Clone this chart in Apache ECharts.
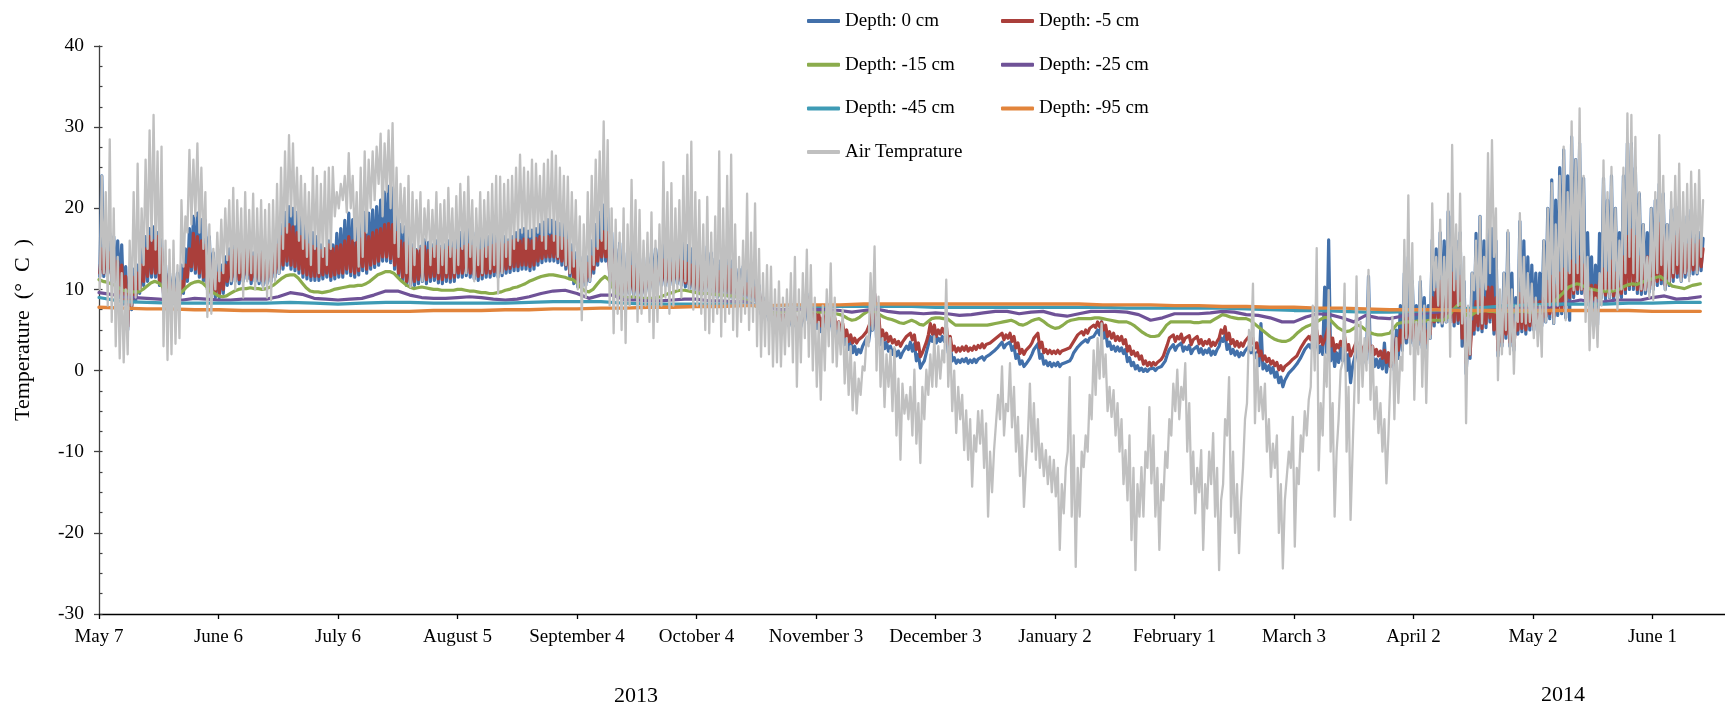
<!DOCTYPE html>
<html>
<head>
<meta charset="utf-8">
<script src="https://cdn.jsdelivr.net/npm/echarts@6/dist/echarts.min.js"></script>
<style>
  html, body { margin: 0; padding: 0; background: #ffffff; }
  #chart { width: 1725px; height: 710px; }
</style>
</head>
<body>
<div id="chart"></div>
<script>
// Soil and air temperature record, May 2013 – June 2014.
// x = days since May 7, 2013. Daily arrays start at day 0.

const tickLabels = ['May 7', 'June 6', 'July 6', 'August 5', 'September 4', 'October 4',
  'November 3', 'December 3', 'January 2', 'February 1', 'March 3', 'April 2', 'May 2', 'June 1'];

const yearLabels = ['2013', '2014'];

const seriesNames = ['Depth: 0 cm', 'Depth: -5 cm', 'Depth: -15 cm', 'Depth: -25 cm',
  'Depth: -45 cm', 'Depth: -95 cm', 'Air Temprature'];

// Air temperature: daily maximum / minimum (°C)
const airHi = [
  24, 22, 28.5, 20, 14, 12, 10, 16, 22, 25.5,
  20, 26, 29.6, 31.5, 27, 27.6, 16, 14.9, 16, 13,
  21, 19, 27.2, 26, 28, 25, 22, 18, 15, 17,
  18.6, 20, 21, 22.5, 21, 20, 22, 19.8, 21.8, 20,
  21, 19.8, 20.5, 21, 23, 25, 27, 29, 28, 25,
  24, 23, 22, 25, 24, 23, 24.5, 25, 25.1, 22,
  23, 24, 26.8, 24, 22, 25, 27, 26, 27, 27.6,
  29.2, 28, 29.6, 30.5, 25, 23, 22.5, 24, 22, 21,
  22, 20, 21, 19.8, 22, 20.5, 21, 22.5, 20, 21.5,
  23, 22, 23.9, 21, 20, 22, 21, 22, 23, 24,
  23.9, 23, 23.5, 24, 25, 26.6, 25, 24.5, 26, 25.5,
  24, 25.5, 26, 27, 26.5, 25, 24, 23.9, 22, 21,
  19, 18, 22, 24, 26, 27, 30.7, 28.4, 20, 18.6,
  17, 20, 18, 23.5, 21, 19.8, 16, 17, 19.5, 16,
  18, 25.7, 22, 23.1, 20, 21, 24, 26.6, 28.2, 22,
  21, 18, 21.4, 17, 19, 27, 20, 24, 26.6, 18,
  14, 16, 21.8, 17, 20.6, 15, 12, 13, 12.8, 10,
  11, 9, 10, 12, 14, 10, 12, 14.9, 13, 9,
  6, 8, 10, 13.2, 9, 6, 7.5, 4, 3, 1,
  -1, 0.5, 4.2, 12, 15.3, 9.1, 4, 2, 2.5, 2.9,
  -1, -1.6, -3, -2, 0.1, -4, -2, 0.1, 2, 4.2,
  3, 2.5, 11.2, 4, 0, -2, -3, -4.9, -6, -8,
  -5, -4.9, -6.5, -10, -9.8, -3, 0.5, -4.1, 0.9, -2,
  -5.7, -8, -12, -1.6, -4, -6, -9, -9.8, -10.6, -11,
  -12, -14, -12, -0.8, -8, -12, -10, -8, -3, 2.5,
  4, 5.8, 2, -2, -2.4, -4, -6, -9.8, -8, -12,
  -14, -11.9, -10, -4.5, -8, -12, -14, -10, -6, -1.6,
  0.1, -2, 0.9, -4, -10, -12, -9.8, -14, -10, -7.7,
  -12, -16, -6, -0.8, -10, -14, -16, -6, 5, 10.7,
  2, -2, -1.6, -6, -9, -8, -14, -16, -10, -5.7,
  -12, -8, -5, -3.6, 8, 15.1, -4, 2, 9.9, -4,
  -10, 0, 10.7, -2, -10, 11.6, 6, 4, 12.4, 3,
  -2, -4, -6, -8, 6.6, 4, 1.7, 16.1, 21.6, 15.7,
  6, 11.6, 8, 6, 20.6, 14, 18.6, 14, 21.8, 27.8,
  18, 21.8, 14, 8, 12, 16, 19, 14, 26.8, 28.4,
  20, 10, 12, 17.3, 10, 8, 19.4, 14, 12, 10.7,
  9, 8, 16, 20, 23.1, 18, 24, 27.6, 22, 30.7,
  26, 32.3, 24, 14, 10, 9, 12, 25.9, 22, 25.1,
  20, 16, 25, 31.7, 31.5, 28.8, 22, 18, 14, 20,
  22, 29, 24, 18, 22, 24, 25.5, 22, 23, 24.5,
  23, 24.7, 21
];
const airLo = [
  10, 12, 8, 6, 3, 1.5, 1, 2, 8, 9,
  10, 13, 15, 16, 14.9, 12, 3, 1.3, 2, 3.3,
  4, 12.8, 17, 18, 19, 17, 15, 6.6, 7, 10,
  11, 12, 13.6, 11, 10, 12, 9, 11, 12, 10,
  11, 10, 9, 8.7, 11, 12, 15, 17, 19, 18,
  16, 15, 14, 13, 15, 12, 14, 13, 15, 19,
  20, 21, 19.5, 20, 16, 12.8, 14, 17, 20, 21,
  23, 19, 22, 20, 15.7, 14, 17, 12, 10.3, 13,
  15, 11, 16, 13, 14, 12, 13, 12, 14, 12,
  13, 15, 12, 14, 11, 13, 12, 14, 12.5, 13,
  9.5, 12, 14, 13, 15, 16, 17, 15, 16.5, 15,
  17, 16, 15, 17, 16, 14, 15, 13, 12, 12.8,
  10, 6.2, 9, 11, 13, 15, 16, 15, 8, 4.6,
  7, 5, 3.4, 8, 9, 6, 7, 8, 6, 4,
  6, 8, 9, 7, 8, 10, 9, 11, 10, 7.5,
  8, 7, 5, 4.6, 6, 7, 4.2, 6, 7, 5,
  4.2, 6, 7, 5, 6, 3, 1.7, 3, 2, 0.5,
  1, 0.5, 2, 3, 1, -2, 1, 4, 1.7, 0,
  -2, -3.6, 0, 3, 1, 0.5, 2, -1.6, -3, -4.9,
  -5.3, -3, 0, 3, 5, 0, -2, -4.5, -2, -5,
  -8, -11, -5.3, -6, -8, -9, -11.4, -6, -3, -2,
  -2, -1, 1, -2, -5, -7.7, -6, -9.8, -11, -14.3,
  -10, -9, -12, -18, -15, -10, -6, -8, -5, -7,
  -10, -13, -16.8, -8, -10, -11, -12, -13, -14, -15,
  -15.5, -22.1, -17.6, -10, -18, -24.2, -18, -11.9, -10, -6,
  -3, -1, -0.8, -5, -5.7, -8, -10, -14, -16, -20.9,
  -24.6, -18, -18, -12, -13.9, -18, -22.1, -16, -12, -8,
  -5, -6, -3.6, -10, -14, -17.6, -15, -22.1, -17, -14,
  -18, -24.6, -14, -8, -18, -20, -22.5, -12, -4, 2.5,
  -6.5, -5, -6, -10, -13.1, -12, -20, -24.4, -16, -12,
  -21.7, -14, -10, -8, -2, 0, -12.3, -8, -2, -10,
  -18, -6, 1, -10, -18.4, -2, -4, -2, 0, -3.6,
  -6, -7.7, -10, -13.9, -8.1, -6, -4, 0, 4, 2,
  -3.6, 2, -2, -4, 4, 9.9, 8, 5.8, 6, 1.7,
  9.9, 8, 5.8, -6.5, 2, 9.9, 7, 5.8, 10, 12,
  14, -1.2, 2, 5, 2, -0.4, 6, 6, 5.8, 6,
  4, 3, 1.7, 6, 8, 5.8, 8, 10, 6.2, 12,
  9.9, 12, 10, 6, 2.5, 4, 2.9, 8, 10, 9,
  10, 7.5, 10, 12, 14, 12, 11, 10, 9.9, 9,
  8.7, 12, 13, 9.9, 11, 12, 13, 11, 12, 11,
  13, 12, 14
];

// Depth 0 cm: daily maximum / minimum (°C)
const d0Hi = [
  24, 17, 16.9, 16.5, 16, 15.5, 12.8, 12, 12.5, 13,
  15, 16.5, 17.5, 17.7, 17, 16.1, 13, 12, 11.6, 12,
  13, 15, 17.5, 19, 19.4, 18.6, 18.5, 16.5, 14.5, 13.5,
  13, 14, 15, 15.5, 15.7, 15.3, 15.7, 15.5, 14.5, 15,
  15, 14.5, 15, 15.5, 16.5, 18, 19.5, 20.2, 20, 19.5,
  19, 18.6, 17.3, 17, 16.5, 15.5, 15, 16, 15.5, 16.9,
  17.5, 18.5, 19.4, 18.6, 18, 18.5, 19.5, 19.4, 19.8, 20.2,
  21, 22, 22.7, 22.5, 20, 18, 17.7, 16.5, 15.5, 14.9,
  15.3, 16.1, 15.8, 15.5, 16, 15.3, 15.5, 16, 16.1, 16.5,
  17, 17.5, 18.1, 17.5, 17, 16.5, 16.1, 16.5, 16.8, 17,
  17, 16.5, 16.1, 16.5, 17, 17.3, 17.5, 17.2, 17.3, 17.5,
  18, 18.3, 18.6, 18.5, 18.3, 18.1, 18, 17.7, 15.5, 14.5,
  14, 13.5, 14, 16, 18, 19.5, 20.4, 20, 17, 15,
  15.7, 14.5, 13.5, 15, 14.5, 13.8, 13, 14, 14.5, 15,
  15, 15.5, 15.7, 15.3, 15, 15.5, 15.7, 15.4, 15, 14.5,
  14.5, 14, 15.3, 14.5, 13.8, 13.5, 14, 14.6, 13.5, 12.8,
  12.5, 12.8, 12.5, 12, 11.5, 10.5, 9, 8.2, 7.6, 7.2,
  7, 6.8, 7, 6.6, 6.5, 6, 6.5, 9.5, 8, 7,
  6.5, 5.8, 7.5, 7, 6, 5.5, 5, 4.2, 3.5, 3,
  2.6, 3, 4, 5.5, 9.5, 6.5, 4, 3.5, 3, 2.6,
  2.4, 2.2, 3, 3.5, 3.3, 2, 0.8, 2.2, 4.2, 4.5,
  4, 4.2, 4.6, 3, 1.6, 1.3, 1.4, 1.5, 1.3, 1.4,
  1.4, 1.7, 1.7, 2, 2.4, 2.9, 3.5, 3.2, 3.5, 3,
  2, 1.2, 0.8, 1.5, 2.6, 3.3, 2, 1.2, 1, 0.9,
  1, 0.8, 1, 1.2, 2.2, 2.9, 3.4, 3.8, 4, 4.2,
  5, 6, 5, 3.5, 3, 2.9, 2.8, 2.6, 1.6, 1,
  0.6, 0.3, 0.2, 0.2, 0.3, 0.3, 0.5, 1.2, 2.6, 3.2,
  3, 3.4, 2.9, 3.1, 2.6, 3, 2.7, 2.5, 2.7, 2.4,
  2.6, 4, 4.4, 3.2, 2.6, 2.4, 2.2, 2.4, 3, 2.8,
  2.2, 5.8, 0.8, 0.6, 0.4, -0.2, -0.8, -1.2, -0.3, 0.2,
  0.8, 1.6, 2.6, 3.2, 3.6, 4, 3, 10.3, 16.1, 3,
  2.2, 2.8, 3, 2, 0.5, 2.6, 2.2, 2, 11.6, 2,
  1.4, 1.4, 3.4, 1.6, 2, 5, 8, 12, 14, 11,
  8, 11, 9, 8, 16.1, 15, 17, 16, 19.6, 19,
  16, 17, 11, 4, 12, 16.9, 19, 16, 18, 17.5,
  16, 8, 12, 17, 12, 9, 18.4, 16, 14, 13,
  12, 12, 16, 20, 23.5, 21, 25, 27.2, 24, 28.8,
  26, 28, 23.7, 17, 14, 13, 16.9, 23.7, 21, 24,
  20, 17, 24, 28, 28, 25, 21.8, 18, 17, 20,
  21, 23, 21.8, 18, 19.8, 20, 20.2, 18, 19, 19.8,
  18, 17, 16.3
];
const d0Lo = [
  11.6, 11.6, 12, 11, 10.5, 9, 8.2, 5, 7.5, 8.5,
  9.5, 10.5, 11, 11.5, 11.5, 10.5, 9, 8.2, 8.2, 8.5,
  8.5, 9.5, 11, 12.3, 12, 11.5, 11, 10, 9, 9,
  9, 9.5, 10.5, 10.7, 11, 10.7, 11, 11.3, 10.7, 11,
  10.7, 10.5, 10.7, 11, 11.5, 12, 12.5, 13, 12.5, 12.3,
  12, 11.5, 11.3, 11.1, 11.1, 11.1, 11.3, 11.5, 11.1, 11.3,
  11.5, 11.5, 12, 11.7, 11.5, 11.8, 12.3, 12, 12.5, 12.7,
  13, 13.5, 13.5, 13.3, 12.5, 11.5, 11, 10.5, 10.3, 10.5,
  10.7, 11, 10.7, 11, 11.1, 10.8, 10.7, 11, 10.9, 11,
  11.5, 11.5, 11.7, 11.5, 11.3, 11.1, 11.3, 11.5, 11.5, 11.7,
  11.5, 11.7, 12, 12.1, 12.3, 12.3, 12.5, 12.5, 12.3, 12.5,
  13, 13.3, 13.5, 13.5, 13.5, 13.3, 13, 12.5, 11.5, 10.7,
  10.3, 10.3, 10.5, 11, 12, 13, 13.5, 13.5, 11.5, 9.5,
  9, 9, 9, 9.5, 9.3, 9, 9, 9.5, 9.7, 10,
  10.3, 10.5, 10.5, 10.3, 10.5, 10.7, 10.5, 10.3, 10.1, 9.8,
  9.5, 9.3, 9.5, 9.7, 9.3, 9, 9.1, 9.3, 9, 8.8,
  9, 9, 8.8, 8.7, 8.5, 8, 7, 6.6, 6.2, 5.9,
  5.8, 5.6, 5.7, 5.5, 5.4, 5.2, 5.4, 6.2, 5.8, 5.5,
  5.2, 4.8, 5.2, 5.4, 4.6, 4.2, 4, 3.2, 2.6, 2.2,
  2, 2.2, 2.8, 3.5, 5, 4, 3.2, 2.7, 2.4, 2,
  1.8, 1.6, 2, 2.6, 2.4, 1.2, 0.3, 1.2, 3.2, 3.6,
  3.4, 3.6, 3.6, 2.2, 1.2, 0.9, 1, 1.1, 0.9, 1,
  1, 1.3, 1.3, 1.6, 1.9, 2.4, 3, 2.8, 3, 2.5,
  1.5, 0.8, 0.5, 1, 2, 2.8, 1.5, 0.8, 0.6, 0.5,
  0.6, 0.5, 0.6, 0.8, 1.6, 2.4, 2.9, 3.3, 3.5, 3.8,
  4.2, 4.4, 4, 3, 2.6, 2.4, 2.4, 2.1, 1.1, 0.6,
  0.2, 0, -0.1, -0.1, 0, 0, 0.1, 0.6, 2, 2.7,
  2.5, 2.8, 2.4, 2.6, 2.1, 2.5, 2.2, 2, 2.2, 1.9,
  2, 3, 3.6, 2.6, 2.1, 1.9, 1.7, 1.9, 2.4, 2.2,
  1.6, 0.6, 0.2, 0, -0.3, -0.8, -1.5, -2, -1, -0.5,
  0, 0.8, 1.8, 2.4, 2.8, 2.8, 2.2, 2, 2.2, 1.2,
  0.5, 1, 1.2, 0, -1.5, 0.6, 1, 0.8, 1.4, 0.8,
  0.5, 0.4, 0.2, -0.2, 0.5, 0, 1.5, 2.5, 3.4, 3.4,
  3, 3.2, 2.8, 2.8, 4, 5.5, 6, 5.5, 6, 6,
  5.5, 5.8, 3, -0.4, 1.5, 4.5, 5, 4.8, 5.3, 6,
  4.5, 1.8, 3, 4, 3, 2.5, 4.5, 4.8, 4.5, 5,
  5, 5, 5.5, 6, 6.4, 5.8, 6.8, 7, 6.5, 6.2,
  9, 9.5, 9.5, 8.5, 8, 5.4, 5.6, 9, 8.8, 9,
  8.7, 8.6, 9, 9.5, 10, 10, 9.5, 9.4, 9.5, 9.7,
  10, 10.5, 10.7, 10, 10.5, 11, 11.5, 11, 11.5, 11.7,
  11.9, 11.9, 12.3
];

// Depth -5 cm: daily maximum / minimum (°C)
const d5Hi = [
  15, 14.8, 14.5, 14, 13.5, 13, 11.6, 10.5, 11.5, 12,
  13, 15, 16.5, 16, 16.5, 15, 12, 11, 10.5, 10,
  11, 13, 15, 16.9, 16.5, 16, 15.5, 14, 12.4, 12,
  12, 13, 14, 14.8, 15, 14.5, 15.3, 14.8, 14, 14.5,
  14.5, 14, 14.5, 14.8, 15.5, 16.5, 17.5, 18, 17.7, 17,
  16.5, 16, 15.5, 15.3, 15, 14.8, 15, 15.5, 15, 15.3,
  15.5, 16, 16.5, 16, 15.8, 16.2, 16.9, 16.5, 17, 17.3,
  17.5, 18, 18.1, 18, 17, 16, 15.7, 15.3, 15, 14.8,
  15, 15.3, 14.8, 15, 15.3, 15, 14.8, 15.2, 15, 14.8,
  15, 15.3, 15.5, 15.3, 15, 14.8, 15, 15.2, 15.4, 15.6,
  15.7, 15.5, 15.8, 16, 16.1, 16, 16.2, 16.1, 16, 16.3,
  16.5, 16.4, 16.5, 16.6, 16.5, 16.4, 16.3, 16, 14.5, 13.5,
  13.2, 13, 13.2, 14, 15, 16, 17.1, 17, 15, 13,
  12.8, 12.5, 12, 12.8, 12.5, 12.2, 12, 12.5, 12.6, 12.8,
  13, 13.6, 13.4, 13.2, 13.5, 13.6, 13.4, 13.2, 13, 12.8,
  12.8, 12.5, 12.6, 12.8, 12.4, 12.2, 12.5, 12.8, 12.4, 12,
  10.7, 10.5, 10.7, 10.4, 10.2, 10, 8.6, 8, 7.6, 7.2,
  7.1, 7, 7.1, 6.9, 6.8, 6.6, 6.8, 9.1, 8, 7.5,
  7, 6.5, 7.5, 7.2, 6.5, 6, 5.8, 5, 4.4, 4,
  3.8, 4.2, 4.8, 6, 9.5, 7, 5, 4.6, 4.2, 3.8,
  3.6, 3.5, 4.2, 4.6, 4.4, 3.4, 2.2, 3.5, 5.8, 5.6,
  5, 5.2, 5.6, 4.2, 3, 2.8, 2.9, 3, 2.8, 3,
  3.1, 3.3, 3.2, 3.4, 3.8, 4.2, 4.6, 4.4, 4.6, 4.2,
  3.4, 2.6, 2.5, 3, 4, 4.6, 3.5, 2.6, 2.5, 2.4,
  2.5, 2.4, 2.6, 2.8, 3.6, 4.4, 4.8, 5, 5.2, 5.6,
  6, 6, 5.6, 4.8, 4.6, 4.2, 4.2, 3.8, 3, 2.4,
  2.2, 1.8, 1.2, 1, 1, 1, 1.4, 2.5, 4, 4.4,
  4.2, 4.5, 4, 4.3, 3.8, 4.2, 3.8, 3.6, 3.8, 3.5,
  3.6, 5, 5.4, 4.6, 3.8, 3.6, 3.4, 3.6, 4.2, 4,
  3.4, 2.4, 1.8, 1.5, 1.2, 1, 0.6, 0.5, 0.9, 1.4,
  1.8, 2.8, 3.6, 4.2, 4.6, 5, 4.2, 3.8, 5.5, 4,
  3.2, 3.6, 4.2, 3.2, 2.4, 3.6, 3.2, 3, 4, 3,
  2.6, 2.4, 2.5, 2.2, 2.5, 4, 5, 6.5, 7, 6.5,
  5.8, 6.5, 5.5, 5, 9, 10, 11, 10, 11.6, 12,
  11, 11.6, 8, 3, 6, 8.5, 10, 9, 10.3, 10.3,
  9, 6, 7, 9, 7, 6, 9.5, 9, 8.5, 9,
  8.5, 8.5, 10, 11, 11.6, 10.5, 12, 12.5, 12, 13.5,
  13, 14, 13, 11, 10.5, 10.5, 11, 12.5, 12, 13.5,
  12, 11, 14, 16.5, 17.3, 16.5, 14, 13, 14, 15.5,
  16, 18.1, 17, 14.5, 15.5, 16.5, 17.5, 16, 15.5, 16.1,
  15.5, 16, 15
];
const d5Lo = [
  12, 12, 12.5, 11.5, 11, 9.5, 8.7, 5.4, 8, 9,
  10, 11, 11.6, 12, 12, 11, 9.5, 8.7, 8.7, 9,
  9, 10, 11.5, 12.8, 12.5, 12, 11.5, 10.5, 9.5, 9.5,
  9.5, 10, 11, 11.2, 11.5, 11.2, 11.5, 11.8, 11.2, 11.5,
  11.2, 11, 11.2, 11.5, 12, 12.5, 13, 13.5, 13, 12.8,
  12.5, 12, 11.8, 11.6, 11.6, 11.6, 11.8, 12, 11.6, 11.8,
  12, 12, 12.5, 12.2, 12, 12.3, 12.8, 12.5, 13, 13.2,
  13.5, 14, 14, 13.8, 13, 12, 11.5, 11, 10.8, 11,
  11.2, 11.5, 11.2, 11.5, 11.6, 11.3, 11.2, 11.5, 11.4, 11.5,
  12, 12, 12.2, 12, 11.8, 11.6, 11.8, 12, 12, 12.2,
  12, 12.2, 12.5, 12.6, 12.8, 12.8, 13, 13, 12.8, 13,
  13.5, 13.8, 14, 14, 14, 13.8, 13.5, 13, 12, 11.2,
  10.8, 10.8, 11, 11.5, 12.5, 13.5, 14, 14, 12, 10,
  9.5, 9.5, 9.5, 10, 9.8, 9.5, 9.5, 10, 10.2, 10.5,
  10.8, 11, 11, 10.8, 11, 11.2, 11, 10.8, 10.6, 10.3,
  10, 9.8, 10, 10.2, 9.8, 9.5, 9.6, 9.8, 9.5, 9.3,
  9.5, 9.5, 9.3, 9.2, 9, 8.5, 7.6, 7.2, 6.8, 6.5,
  6.4, 6.2, 6.3, 6.1, 6, 5.9, 6, 7, 6.5, 6.2,
  6, 5.5, 6, 6.2, 5.5, 5.2, 5, 4.2, 3.6, 3.4,
  3.4, 3.6, 4, 4.6, 6, 5, 4.2, 3.8, 3.6, 3.4,
  3.2, 3, 3.5, 4, 3.8, 2.6, 1.7, 2.4, 4.4, 4.5,
  4.2, 4.5, 4.6, 3.3, 2.5, 2.3, 2.4, 2.5, 2.4, 2.5,
  2.6, 2.8, 2.8, 3, 3.2, 3.6, 4, 3.8, 4, 3.6,
  2.8, 2.1, 2, 2.5, 3.4, 4, 2.8, 2.2, 2.1, 2.1,
  2.1, 2.1, 2.2, 2.4, 3, 3.8, 4.2, 4.4, 4.6, 5,
  5.3, 5.4, 5, 4.2, 4, 3.7, 3.7, 3.3, 2.4, 2,
  1.8, 1.4, 0.8, 0.6, 0.6, 0.7, 0.9, 1.8, 3.2, 3.8,
  3.6, 3.9, 3.5, 3.8, 3.2, 3.6, 3.3, 3.1, 3.3, 3,
  3.1, 4, 4.6, 3.8, 3.3, 3, 2.9, 3, 3.4, 3.3,
  2.8, 1.8, 1.3, 1.1, 0.8, 0.6, 0.1, 0, 0.4, 0.9,
  1.2, 2, 2.8, 3.4, 3.8, 3.8, 3.4, 3.2, 3.6, 3,
  2.4, 2.8, 3, 2.5, 1.8, 2.4, 2.4, 2.3, 2.6, 2.2,
  2, 1.8, 1.5, 1, 0.5, 1, 2.5, 3.4, 4, 4,
  3.6, 3.8, 3.4, 3.4, 4.5, 6, 6.5, 6, 6.5, 6.5,
  6, 6.2, 4, 0.9, 2, 5, 5.5, 5.2, 5.8, 6.5,
  5, 2.5, 3.5, 4.5, 3.5, 3, 5, 5.2, 5, 5.5,
  5.5, 5.5, 6, 6.6, 7, 6.6, 7.5, 7.5, 8, 9,
  9.5, 10, 10, 9, 8.5, 8.5, 9, 9.5, 9.3, 9.5,
  9.2, 9.1, 9.5, 10, 10.5, 10.5, 10, 9.9, 10, 10.2,
  10.5, 11, 11.2, 10.5, 11, 11.5, 12, 11.5, 12, 12.2,
  12.4, 12.4, 12.8
];

// Depth -15 cm: daily values (°C)
const d15 = [
  11.2, 11.0, 10.9, 10.7, 10.5, 10.2, 9.9, 9.8, 9.7, 9.7,
  9.7, 10.0, 10.4, 10.8, 11.0, 10.8, 10.3, 9.9, 9.5, 9.3,
  9.4, 9.8, 10.3, 10.7, 10.9, 11.0, 10.8, 10.3, 9.8, 9.5,
  9.2, 9.1, 9.2, 9.5, 9.8, 10.0, 10.1, 10.1, 10.2, 10.1,
  10.1, 10.0, 10.1, 10.3, 10.6, 11.0, 11.4, 11.7, 11.8, 11.8,
  11.4, 10.8, 10.2, 9.8, 9.7, 9.7, 9.6, 9.7, 9.8, 10.0,
  10.1, 10.2, 10.3, 10.4, 10.4, 10.5, 10.5, 10.7, 11.0, 11.4,
  11.8, 12.0, 12.2, 12.2, 12.0, 11.5, 11.0, 10.6, 10.3, 10.1,
  10.2, 10.3, 10.2, 10.1, 10.0, 10.0, 9.9, 9.9, 9.9, 9.9,
  10.0, 10.0, 9.9, 9.8, 9.8, 9.7, 9.6, 9.6, 9.5, 9.5,
  9.6, 9.7, 9.9, 10.0, 10.2, 10.3, 10.5, 10.7, 11.0, 11.2,
  11.4, 11.6, 11.7, 11.8, 11.8, 11.7, 11.6, 11.5, 11.3, 11.2,
  10.8, 10.2, 9.8, 9.7, 10.0, 10.6, 11.2, 11.6, 11.2, 10.2,
  9.3, 9.1, 9.0, 9.0, 9.1, 9.0, 8.9, 8.9, 8.9, 8.9,
  9.0, 9.1, 9.3, 9.5, 9.6, 9.8, 9.9, 9.9, 9.8, 9.7,
  9.6, 9.5, 9.5, 9.5, 9.4, 9.4, 9.3, 9.3, 9.2, 9.2,
  9.1, 9.0, 8.8, 8.5, 8.2, 7.9, 7.6, 7.4, 7.2, 7.1,
  7.1, 7.2, 7.3, 7.3, 7.4, 7.4, 7.5, 7.7, 7.6, 7.4,
  7.3, 7.2, 7.2, 7.2, 7.1, 7.0, 6.9, 6.7, 6.4, 6.2,
  6.3, 6.6, 7.0, 7.3, 7.5, 7.2, 6.9, 6.6, 6.4, 6.3,
  6.1, 5.9, 5.8, 6.0, 6.2, 6.0, 5.7, 5.6, 6.0, 6.4,
  6.5, 6.5, 6.4, 6.4, 6.0, 5.6, 5.6, 5.6, 5.6, 5.6,
  5.6, 5.6, 5.6, 5.6, 5.7, 5.8, 5.9, 6.0, 6.1, 6.2,
  6.0, 5.7, 5.6, 5.8, 6.1, 6.3, 6.4, 6.1, 5.7, 5.4,
  5.2, 5.3, 5.6, 6.0, 6.2, 6.3, 6.4, 6.4, 6.4, 6.4,
  6.5, 6.5, 6.4, 6.3, 6.2, 6.1, 6.0, 6.0, 6.0, 5.8,
  5.5, 5.1, 4.7, 4.4, 4.2, 4.2, 4.3, 4.9, 5.6, 6.0,
  6.0, 6.0, 6.0, 6.0, 6.0, 5.9, 5.9, 6.0, 6.0, 6.0,
  6.3, 6.6, 6.9, 6.8, 6.6, 6.5, 6.4, 6.4, 6.4, 6.2,
  5.8, 5.4, 5.0, 4.6, 4.2, 3.9, 3.7, 3.6, 3.6, 3.8,
  4.2, 4.7, 5.1, 5.4, 5.6, 5.8, 6.1, 6.4, 6.6, 6.3,
  5.8, 5.3, 5.0, 4.8, 4.9, 5.2, 5.6, 5.4, 5.0, 4.7,
  4.5, 4.4, 4.4, 4.5, 4.6, 5.2, 5.8, 5.9, 6.0, 6.0,
  6.0, 6.1, 6.1, 6.1, 6.2, 6.2, 6.2, 6.2, 6.3, 6.8,
  7.5, 8.0, 8.3, 7.0, 6.6, 7.0, 7.3, 7.3, 7.4, 7.3,
  7.3, 7.2, 7.2, 7.3, 7.3, 7.2, 7.3, 7.3, 7.3, 7.2,
  7.2, 7.3, 7.3, 7.4, 7.6, 8.2, 8.8, 9.3, 9.8, 10.3,
  10.5, 10.7, 10.6, 10.3, 10.1, 10.0, 9.9, 9.8, 9.8, 9.8,
  9.8, 9.9, 10.1, 10.4, 10.6, 10.7, 10.6, 10.8, 11.0, 11.2,
  11.3, 11.5, 11.6, 11.2, 10.8, 10.4, 10.3, 10.2, 10.1, 10.3,
  10.5, 10.6, 10.7
];

// Depth -25 cm: every 3 days (°C)
const d25 = [
  9.6, 9.4, 9.1, 9.0, 8.9, 8.8, 8.7, 8.7, 8.9, 8.8,
  8.7, 8.7, 8.8, 8.8, 8.8, 9.1, 9.6, 9.4, 8.9, 8.8,
  8.7, 8.8, 8.9, 9.3, 9.8, 9.8, 9.3, 9.0, 8.9, 8.9,
  9.0, 9.1, 9.0, 8.8, 8.7, 8.8, 9.1, 9.5, 9.8, 9.9,
  9.5, 8.9, 9.3, 9.3, 8.7, 8.7, 8.6, 8.6, 8.7, 8.8,
  8.8, 8.6, 8.6, 8.5, 8.5, 8.0, 7.7, 7.5, 7.5, 7.6,
  7.5, 7.5, 7.4, 7.2, 7.4, 7.6, 7.3, 7.1, 7.1, 7.0,
  7.1, 7.0, 6.8, 6.9, 7.1, 7.3, 7.3, 7.0, 7.2, 7.3,
  6.9, 6.7, 7.0, 7.3, 7.3, 7.3, 7.2, 6.9, 6.2, 6.5,
  7.0, 7.0, 7.0, 7.1, 7.3, 7.2, 6.9, 6.8, 6.5, 6.0,
  6.0, 6.6, 7.0, 6.9, 6.5, 6.0, 6.8, 6.5, 6.4, 6.7,
  6.9, 7.1, 7.2, 7.5, 7.4, 7.5, 7.5, 7.5, 7.5, 7.6,
  7.6, 7.7, 8.0, 8.4, 8.7, 8.4, 8.5, 8.7, 8.7, 8.7,
  9.0, 9.2, 8.8, 8.9, 9.1
];

// Depth -45 cm: every 6 days (°C)
const d45 = [
  9.0, 8.5, 8.4, 8.3, 8.3, 8.3, 8.3, 8.3, 8.4, 8.3,
  8.2, 8.3, 8.4, 8.4, 8.3, 8.3, 8.3, 8.3, 8.4, 8.5,
  8.5, 8.5, 8.3, 8.2, 8.2, 8.2, 8.2, 8.1, 8.0, 8.0,
  7.9, 7.9, 7.9, 7.9, 7.9, 7.8, 7.8, 7.8, 7.8, 7.8,
  7.8, 7.8, 7.8, 7.7, 7.7, 7.7, 7.7, 7.7, 7.6, 7.5,
  7.4, 7.4, 7.3, 7.2, 7.2, 7.3, 7.4, 7.6, 7.8, 8.0,
  8.1, 8.2, 8.2, 8.2, 8.3, 8.3, 8.4, 8.4
];

// Depth -95 cm: every 6 days (°C)
const d95 = [
  7.8, 7.7, 7.6, 7.6, 7.5, 7.5, 7.4, 7.4, 7.3, 7.3,
  7.3, 7.3, 7.3, 7.3, 7.4, 7.4, 7.4, 7.5, 7.5, 7.6,
  7.6, 7.7, 7.7, 7.8, 7.8, 7.9, 7.9, 8.0, 8.0, 8.1,
  8.1, 8.1, 8.2, 8.2, 8.2, 8.2, 8.2, 8.2, 8.2, 8.2,
  8.2, 8.2, 8.1, 8.1, 8.1, 8.0, 8.0, 7.9, 7.9, 7.8,
  7.8, 7.7, 7.7, 7.6, 7.5, 7.5, 7.5, 7.4, 7.4, 7.4,
  7.4, 7.4, 7.4, 7.4, 7.4, 7.3, 7.3, 7.3
];

const colors = ['#4270aa', '#aa3f3b', '#8bac4c', '#6f5297', '#3e9bb5', '#e2843b', '#c0c0c0'];

// Daily min (early) and max (afternoon) points for each day
function diurnal(lo, hi) {
  const pts = [];
  const n = Math.min(lo.length, hi.length);
  for (let d = 0; d < n; d++) {
    pts.push([d + 0.2, lo[d]]);
    pts.push([d + 0.7, hi[d]]);
  }
  return pts;
}
function stepped(vals, step) {
  return vals.map((v, i) => [i * step, v]);
}

const serif = 'Liberation Serif, Times New Roman, serif';

function lineSeries(idx, data, width) {
  return {
    name: seriesNames[idx],
    type: 'line',
    data: data,
    showSymbol: false,
    symbol: 'none',
    smooth: false,
    silent: true,
    animation: false,
    color: colors[idx],
    lineStyle: { color: colors[idx], width: width, cap: 'round', join: 'round' },
    z: 2 + idx
  };
}

const chart = echarts.init(document.getElementById('chart'), null, { renderer: 'canvas' });

const legendBase = {
  orient: 'vertical',
  top: 11,
  padding: 0,
  itemWidth: 33,
  itemHeight: 4,
  itemGap: 23.7,
  icon: 'roundRect',
  selectedMode: false,
  textStyle: { fontFamily: serif, fontSize: 19, color: '#000', lineHeight: 20 }
};

chart.setOption({
  backgroundColor: '#ffffff',
  animation: false,
  grid: { left: 99, right: 0, top: 46, bottom: 96, containLabel: false },
  legend: [
    Object.assign({}, legendBase, { left: 807, data: [seriesNames[0], seriesNames[2], seriesNames[4], seriesNames[6]] }),
    Object.assign({}, legendBase, { left: 1001, data: [seriesNames[1], seriesNames[3], seriesNames[5]] })
  ],
  xAxis: {
    type: 'value',
    min: 0,
    max: 408.2,
    interval: 30,
    axisLine: { show: true, onZero: false, lineStyle: { color: '#000', width: 1.3 } },
    axisTick: { show: true, inside: false, length: 5, lineStyle: { color: '#000', width: 1.3 } },
    splitLine: { show: false },
    axisLabel: {
      show: true,
      margin: 14,
      fontFamily: serif,
      fontSize: 19,
      color: '#000',
      showMaxLabel: false,
      formatter: function (v) {
        const i = Math.round(v / 30);
        return (Math.abs(v - i * 30) < 1e-6 && tickLabels[i]) ? tickLabels[i] : '';
      }
    }
  },
  yAxis: [
    {
      type: 'value',
      min: -30,
      max: 40,
      interval: 10,
      position: 'left',
      name: 'Temperature  (°  C  )',
      nameLocation: 'middle',
      nameRotate: 90,
      nameGap: 65,
      nameTextStyle: { fontFamily: serif, fontSize: 22, color: '#000' },
      axisLine: { show: true, onZero: false, lineStyle: { color: '#404040', width: 1.3 } },
      axisTick: { show: true, inside: false, length: 5, lineStyle: { color: '#404040', width: 1.3 } },
      splitLine: { show: false },
      axisLabel: { margin: 15, fontFamily: serif, fontSize: 19.5, color: '#000' }
    },
    {
      type: 'value',
      min: -30,
      max: 40,
      interval: 2.5,
      position: 'left',
      offset: 0,
      axisLine: { show: false, onZero: false },
      axisTick: { show: true, inside: true, length: 3.5, lineStyle: { color: '#404040', width: 1.2 } },
      axisLabel: { show: false },
      splitLine: { show: false }
    }
  ],
  graphic: [
    {
      type: 'text', x: 636, y: 696, silent: true,
      style: { text: yearLabels[0], x: 0, y: 0, textAlign: 'center', textVerticalAlign: 'middle', verticalAlign: 'middle',
        font: '22px ' + serif, fill: '#000' }
    },
    {
      type: 'text', x: 1563, y: 695, silent: true,
      style: { text: yearLabels[1], x: 0, y: 0, textAlign: 'center', textVerticalAlign: 'middle', verticalAlign: 'middle',
        font: '22px ' + serif, fill: '#000' }
    }
  ],
  series: [
    lineSeries(0, diurnal(d0Lo, d0Hi), 3.2),
    lineSeries(1, diurnal(d5Lo, d5Hi), 3.2),
    lineSeries(2, stepped(d15, 1), 3.2),
    lineSeries(3, stepped(d25, 3), 3.2),
    lineSeries(4, stepped(d45, 6), 3.2),
    lineSeries(5, stepped(d95, 6), 3.4),
    lineSeries(6, diurnal(airLo, airHi), 2.3)
  ]
});
</script>
</body>
</html>
